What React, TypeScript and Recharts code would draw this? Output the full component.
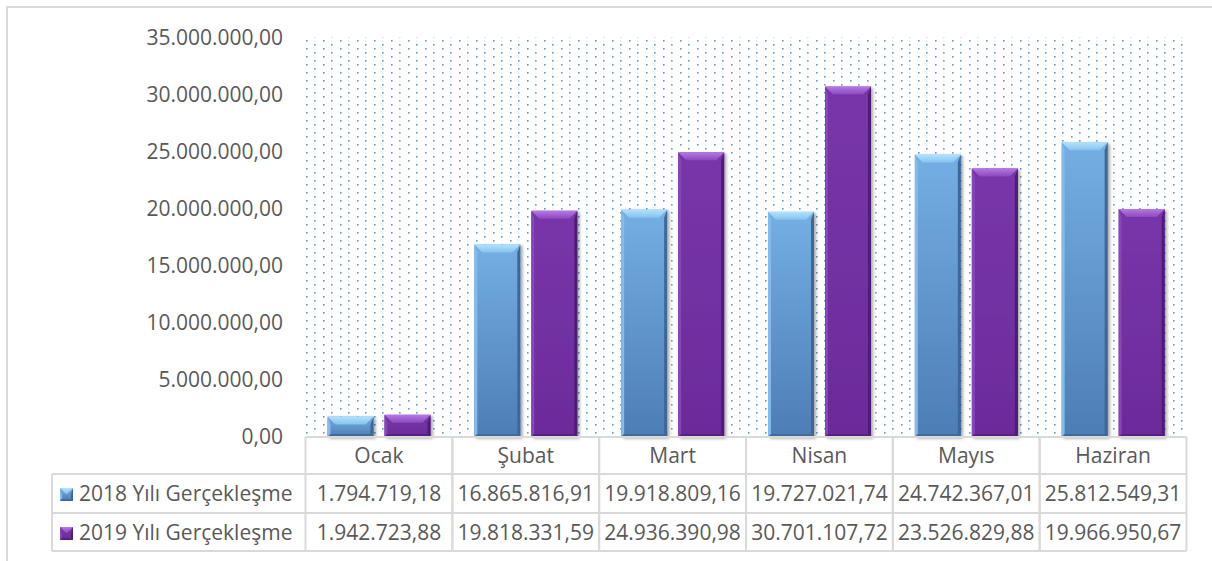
import React from 'react'
import { BarChart, Bar, XAxis, YAxis, CartesianGrid } from 'recharts'

const categories = ['Ocak', 'Şubat', 'Mart', 'Nisan', 'Mayıs', 'Haziran']
const seriesNames = ['2018 Yılı Gerçekleşme', '2019 Yılı Gerçekleşme']
const values2018 = [1794719.18, 16865816.91, 19918809.16, 19727021.74, 24742367.01, 25812549.31]
const values2019 = [1942723.88, 19818331.59, 24936390.98, 30701107.72, 23526829.88, 19966950.67]
const yTicks = [0, 5000000, 10000000, 15000000, 20000000, 25000000, 30000000, 35000000]

const data = categories.map((name, i) => ({ name, y2018: values2018[i], y2019: values2019[i] }))

// layout (page px)
const W = 1212
const H = 561
const PLOT_L = 305.5
const PLOT_R = 1186.5
const PLOT_T = 37.5
const TABLE_H = 114
const COL_W = (PLOT_R - PLOT_L) / categories.length
const LEG_L = 52
const ROW_Y = [0, 37, 76, 114] // row lines, relative to table top
const FONT = "'Open Sans', sans-serif"
const FS = 21
const TEXT = '#595959'
const LINE = '#d9d9d9'

const fmt = (v: number) => {
  const [i, d] = v.toFixed(2).split('.')
  return i.replace(/\B(?=(\d{3})+(?!\d))/g, '.') + ',' + d
}

const schemes: Record<string, any> = {
  blue: { body: 'url(#bodyBlue)', top: 'url(#topBlue)', left: '#84bbe9', right: '#3c6699', bottom: '#41699c' },
  purple: { body: 'url(#bodyPurple)', top: 'url(#topPurple)', left: '#8644b8', right: '#4e1a76', bottom: '#56207f' },
}

function bevel(x: number, y: number, w: number, h: number, scheme: string, t = 8, s = 3) {
  const c = schemes[scheme]
  const tt = Math.min(t, h / 2)
  const ti = Math.min(tt, w / 2)
  const b = Math.min(s, h / 4)
  return (
    <g>
      <rect x={x} y={y} width={w} height={h} fill={c.body} />
      <polygon points={`${x},${y} ${x + s},${y + tt} ${x + s},${y + h - b} ${x},${y + h}`} fill={c.left} />
      <polygon points={`${x + w},${y} ${x + w - s},${y + tt} ${x + w - s},${y + h - b} ${x + w},${y + h}`} fill={c.right} />
      <polygon points={`${x},${y + h} ${x + s},${y + h - b} ${x + w - s},${y + h - b} ${x + w},${y + h}`} fill={c.bottom} />
      <polygon points={`${x},${y} ${x + w},${y} ${x + w - ti},${y + tt} ${x + ti},${y + tt}`} fill={c.top} />
    </g>
  )
}

const BevelBar = (scheme: string) => (props: any) => {
  const { x, y, width, height } = props
  if (!height || height <= 0) return <g />
  return <g filter="url(#barShadow)">{bevel(x, y, width, height, scheme)}</g>
}

const TableTick = (props: any) => {
  const { x, y, payload, index } = props
  const left = x - COL_W / 2
  const right = x + COL_W / 2
  const rows = ROW_Y.map((r) => y + r)
  const vals = [values2018[index], values2019[index]]
  return (
    <g fontFamily={FONT} fontSize={FS} fill={TEXT}>
      {rows.map((ry, k) => (
        <line key={`h${k}`} x1={left} x2={right} y1={ry} y2={ry} stroke={LINE} strokeWidth={2} />
      ))}
      <line x1={left} x2={left} y1={rows[0]} y2={rows[3]} stroke={LINE} strokeWidth={2} />
      <line x1={right} x2={right} y1={rows[0]} y2={rows[3]} stroke={LINE} strokeWidth={2} />
      <text x={x} y={rows[0] + 26} textAnchor="middle">{payload.value}</text>
      {vals.map((v, k) => (
        <text key={`v${k}`} x={x} y={rows[k + 1] + 27} textAnchor="middle">{fmt(v)}</text>
      ))}
      {index === 0 && (
        <g>
          <line x1={LEG_L} x2={LEG_L} y1={rows[1]} y2={rows[3]} stroke={LINE} strokeWidth={2} />
          {[1, 2, 3].map((k) => (
            <line key={`l${k}`} x1={LEG_L} x2={left} y1={rows[k]} y2={rows[k]} stroke={LINE} strokeWidth={2} />
          ))}
          {seriesNames.map((n, k) => (
            <g key={n}>
              {bevel(LEG_L + 8, rows[k + 1] + 14, 13, 13, k === 0 ? 'blue' : 'purple', 6, 2)}
              <text x={LEG_L + 27} y={rows[k + 1] + 27} textAnchor="start">{n}</text>
            </g>
          ))}
        </g>
      )}
    </g>
  )
}

export default function App() {
  return (
    <div style={{ position: 'absolute', left: 0, top: 0, width: W, height: H, background: '#fff', overflow: 'hidden' }}>
      {/* chart frame, only top/left visible */}
      <div style={{ position: 'absolute', left: 6, top: 6, width: 1400, height: 800, border: `2px solid ${LINE}` }} />
      <div style={{ position: 'absolute', left: 0, top: 0 }}>
        <BarChart
          width={W}
          height={H}
          data={data}
          margin={{ top: PLOT_T, right: W - PLOT_R, left: 0, bottom: H - PLOT_T - 399.5 - TABLE_H }}
          barCategoryGap={22}
          barGap={11}
        >
          <defs>
            <pattern id="dots" patternUnits="userSpaceOnUse" x={306} y={36} width={17} height={8}>
              <rect x={8} y={0} width={1.6} height={1.6} fill="#5b9bd5" />
              <rect x={0} y={4} width={1.6} height={1.6} fill="#5b9bd5" />
              <rect x={8} y={4.5} width={1.2} height={0.8} fill="#d6e6f6" />
            </pattern>
            <linearGradient id="bodyBlue" x1="0" y1="0" x2="0" y2="1">
              <stop offset="0%" stopColor="#74afe3" />
              <stop offset="100%" stopColor="#4d7db5" />
            </linearGradient>
            <linearGradient id="topBlue" x1="0" y1="0" x2="0" y2="1">
              <stop offset="0%" stopColor="#b3e2fc" />
              <stop offset="100%" stopColor="#86c2ef" />
            </linearGradient>
            <linearGradient id="bodyPurple" x1="0" y1="0" x2="0" y2="1">
              <stop offset="0%" stopColor="#7836aa" />
              <stop offset="100%" stopColor="#6b2b9a" />
            </linearGradient>
            <linearGradient id="topPurple" x1="0" y1="0" x2="0" y2="1">
              <stop offset="0%" stopColor="#b47ae0" />
              <stop offset="100%" stopColor="#8c48c0" />
            </linearGradient>
            <filter id="barShadow" x="-20%" y="-20%" width="150%" height="150%">
              <feDropShadow dx={2} dy={1.5} stdDeviation={1.6} floodColor="#000" floodOpacity={0.35} />
            </filter>
          </defs>
          <CartesianGrid horizontal={false} vertical={false} fill="url(#dots)" />
          <XAxis
            dataKey="name"
            height={TABLE_H}
            axisLine={false}
            tickLine={false}
            tickSize={0}
            tickMargin={0}
            interval={0}
            tick={<TableTick />}
          />
          <YAxis
            width={PLOT_L}
            domain={[0, 35000000]}
            ticks={yTicks}
            tickFormatter={fmt}
            axisLine={false}
            tickLine={false}
            tickSize={0}
            tickMargin={22.5}
            tick={{ fill: TEXT, fontSize: FS, fontFamily: FONT }}
          />
          <Bar dataKey="y2018" name={seriesNames[0]} shape={BevelBar('blue')} isAnimationActive={false} />
          <Bar dataKey="y2019" name={seriesNames[1]} shape={BevelBar('purple')} isAnimationActive={false} />
        </BarChart>
      </div>
    </div>
  )
}
